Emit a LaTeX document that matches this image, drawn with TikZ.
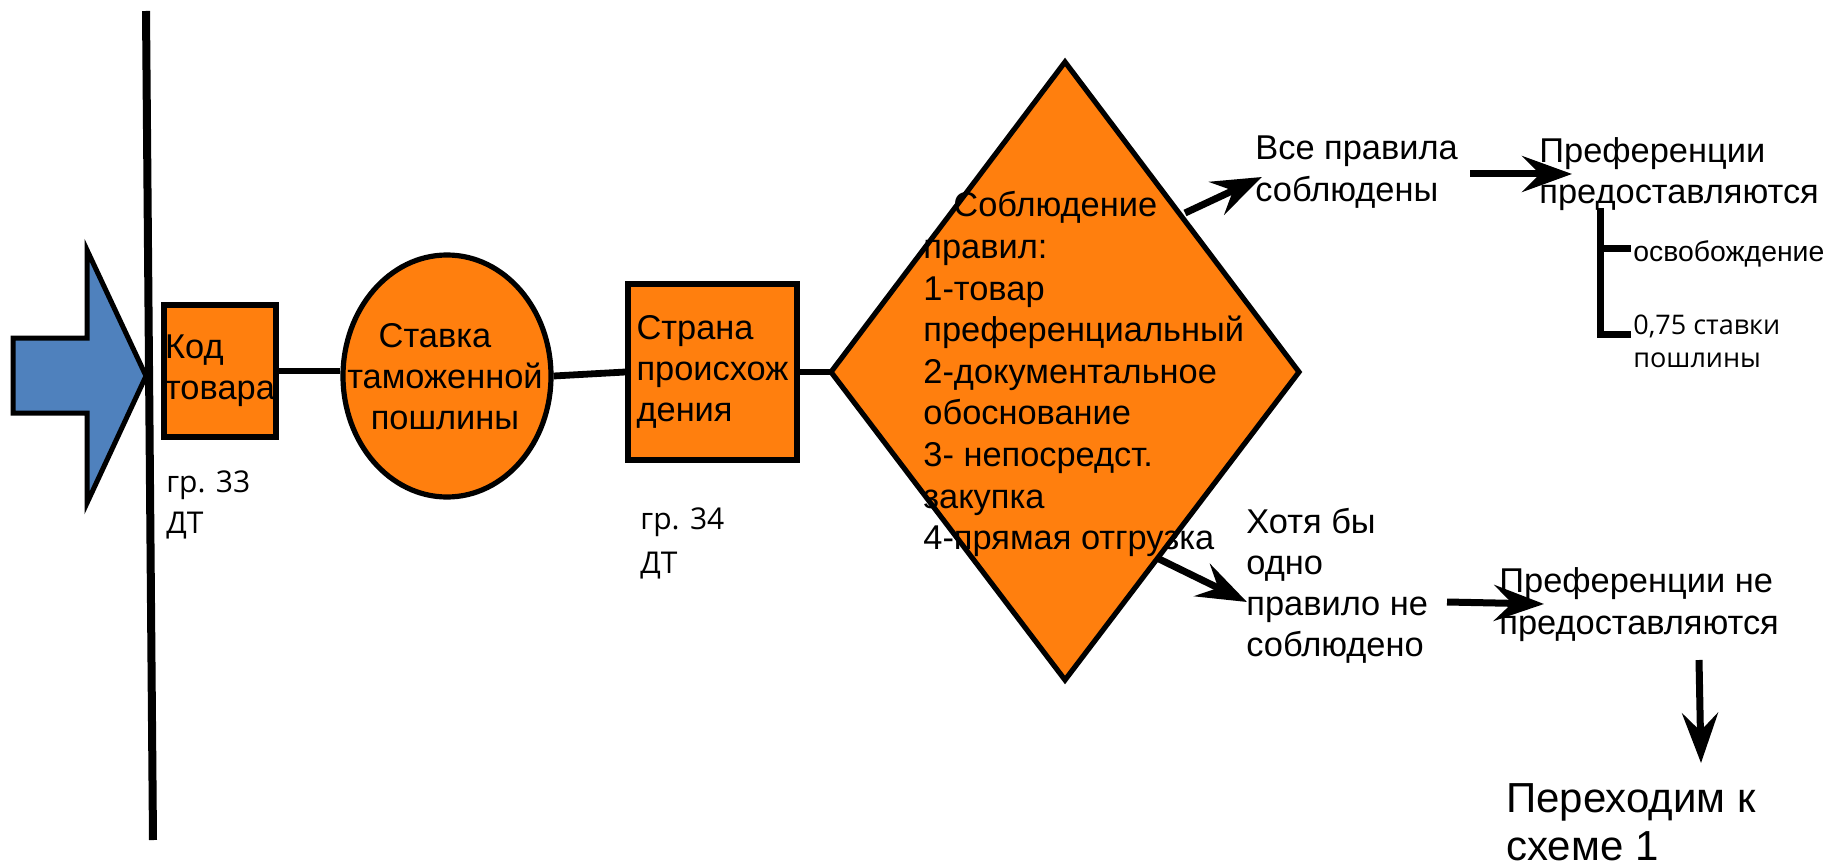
\documentclass[tikz,border=0pt]{standalone}
\usepackage{fontspec}
\setmainfont{Liberation Sans}
\newfontfamily\osans{Open Sans}
\usetikzlibrary{arrows.meta,shapes.geometric}
\definecolor{boxorange}{RGB}{255,127,14}
\definecolor{arrowblue}{RGB}{79,129,189}
\newcommand{\mlt}[1]{\begin{tabular}[t]{@{}l@{}}#1\end{tabular}}
\newcommand{\mlc}[1]{\begin{tabular}{@{}c@{}}#1\end{tabular}}
\tikzset{
  shapebox/.style={draw=black, line width=2.6pt, fill=boxorange, inner sep=0pt, line join=miter},
  conn/.style={line width=3.4pt},
  bigarrow/.style={line width=3.5pt, -{Stealth[length=25pt,width=18pt,inset=9pt]}},
  bracketline/.style={line width=3.5pt},
  lbl/.style={inner sep=0pt, anchor=base west},
  mainfont/.style={font=\fontsize{17.2}{20.6}\selectfont},
}
\begin{document}
\begin{tikzpicture}[x=0.5pt, y=-0.5pt]
\useasboundingbox (0,0) rectangle (1835,866);

% boundary line and incoming arrow
\coordinate (vtop) at (146,11);
\coordinate (vbot) at (153,840);
\draw[line width=4pt] (vtop) -- (vbot);
\draw[line width=2.5pt, fill=arrowblue, line join=miter]
  (13,338) -- (87,338) -- (87,250) -- (146,376) -- (87,503) -- (87,413) -- (13,413) -- cycle;

% main chain
\node[shapebox, minimum width=56pt, minimum height=66pt, mainfont] (kod) at (220,371) {\mlt{Код\\товара}};
\node[shapebox, ellipse, minimum width=104pt, minimum height=121pt] (stavka) at (447,376) {};
\node[mainfont, inner sep=0pt] (stavkatext) at (445,380) {\mlc{Ставка\hspace*{10pt}\\таможенной\\пошлины}};
\node[shapebox, minimum width=84.5pt, minimum height=88pt, mainfont] (strana) at (712.5,372) {\mlt{Страна\\происхож\\дения}};

\coordinate (dl) at (831,372);
\coordinate (dt) at (1065,62);
\coordinate (dr) at (1299,372);
\coordinate (db) at (1065,680);
\draw[shapebox] (dl) -- (dt) -- (dr) -- (db) -- cycle;
\node[lbl, font=\fontsize{17.2}{20.8}\selectfont] (rules) at (923,217)
  {\mlt{\hspace*{15pt}Соблюдение\\правил:\\1-товар\\преференциальный\\2-документальное\\обоснование\\3- непосредст.\\закупка\\4-прямая отгрузка}};

\draw[conn] (kod.east) -- (kod.east -| stavka.west);
\draw[conn] (stavka.east) -- (strana.west);
\draw[conn] (strana.east) -- (dl);

% labels under boxes
\node[lbl, font=\osans\fontsize{15}{20.5}\selectfont] (gr33) at (166,492) {\mlt{гр. 33\\ДТ}};
\node[lbl, font=\osans\fontsize{15}{22}\selectfont] (gr34) at (640,529) {\mlt{гр. 34\\ДТ}};

% upper branch
\node[lbl, font=\fontsize{17.2}{21}\selectfont] (allok) at (1255,160) {\mlt{Все правила\\соблюдены}};
\node[lbl, font=\fontsize{17.2}{20.5}\selectfont] (prefyes) at (1539,163) {\mlt{Преференции\\предоставляются}};
\node[lbl, font=\fontsize{14.2}{17.5}\selectfont] (osv) at (1633,262) {освобождение};
\node[lbl, font=\osans\fontsize{13.5}{17}\selectfont] (quarter) at (1633,334) {\mlt{0,75 ставки\\пошлины}};

\coordinate (a1s) at (1185,213);
\coordinate (a1e) at (1262,177);
\draw[bigarrow] (a1s) -- (a1e);
\coordinate (a2s) at (1470,174);
\coordinate (a2e) at (1572,174);
\draw[bigarrow] (a2s) -- (a2e);

\coordinate (brt) at (1600,208);
\coordinate (brb) at (1600,338);
\coordinate (bro) at (1631,249);
\coordinate (brq) at (1631,334);
\draw[bracketline] (brt) -- (brb);
\draw[bracketline] (brt |- bro) -- (bro);
\draw[bracketline] (brt |- brq) -- (brq);

% lower branch
\node[lbl, font=\fontsize{17.2}{20.6}\selectfont] (notok) at (1246,533) {\mlt{Хотя бы\\одно\\правило не\\соблюдено}};
\node[lbl, font=\fontsize{17.2}{21}\selectfont] (prefno) at (1499,592) {\mlt{Преференции не\\предоставляются}};
\node[lbl, font=\fontsize{21}{24}\selectfont] (scheme) at (1506,812) {\mlt{Переходим к\\схеме 1}};

\coordinate (a3s) at (1157,558);
\coordinate (a3e) at (1247,602);
\draw[bigarrow] (a3s) -- (a3e);
\coordinate (a4s) at (1447,602);
\coordinate (a4e) at (1544,604);
\draw[bigarrow] (a4s) -- (a4e);
\coordinate (a5s) at (1699,660);
\coordinate (a5e) at (1701,763);
\draw[bigarrow] (a5s) -- (a5e);
\end{tikzpicture}
\end{document}
